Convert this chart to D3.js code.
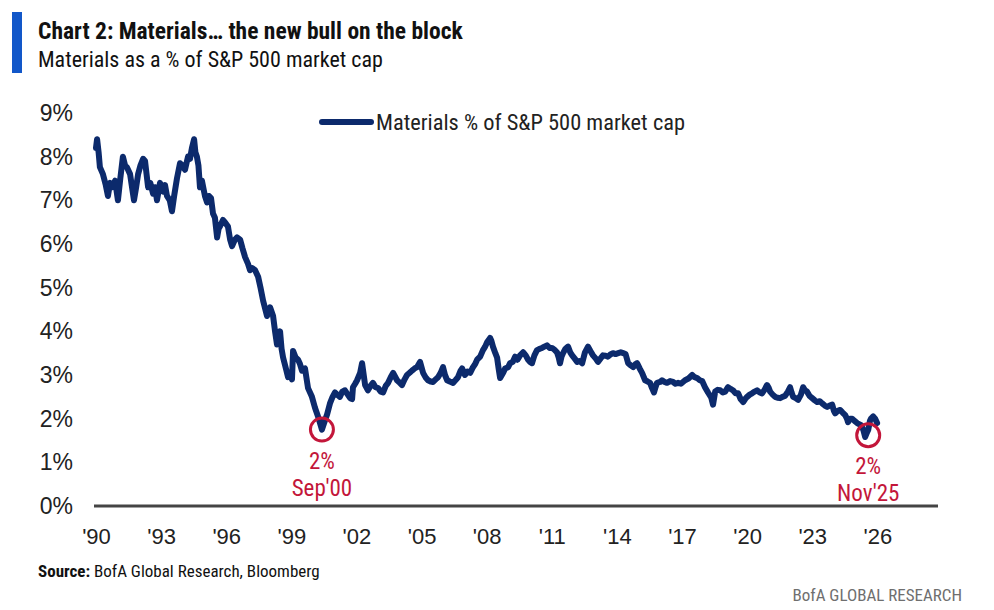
<!DOCTYPE html>
<html>
<head>
<meta charset="utf-8">
<script src="https://cdn.jsdelivr.net/npm/d3@7"></script>
<style>
  body { margin: 0; background: #fff; }
  svg { display: block; font-family: "Roboto Condensed", "Liberation Sans Narrow", "DejaVu Sans Condensed", sans-serif; }
</style>
</head>
<body>
<svg id="chart" width="994" height="610"></svg>
<script>
// decimal years
const dates = [
  1990.00,1990.05,1990.12,1990.18,1990.32,1990.45,1990.55,1990.65,1990.74,1990.88,
  1991.01,1991.12,1991.24,1991.34,1991.43,1991.57,1991.66,1991.75,1991.85,1991.94,
  1992.05,1992.17,1992.26,1992.40,1992.50,1992.63,1992.72,1992.81,1992.95,1993.02,
  1993.09,1993.18,1993.27,1993.40,1993.50,1993.60,1993.73,1993.87,1993.98,1994.10,
  1994.24,1994.33,1994.42,1994.52,1994.58,1994.65,1994.72,1994.79,1994.88,1995.02,
  1995.12,1995.20,1995.30,1995.39,1995.48,1995.58,1995.65,1995.71,1995.85,1995.94,
  1996.08,1996.18,1996.27,1996.40,1996.50,1996.64,1996.75,1996.87,1997.00,1997.10,
  1997.20,1997.33,1997.47,1997.58,1997.70,1997.88,1997.95,1998.02,1998.16,1998.25,
  1998.34,1998.48,1998.55,1998.62,1998.75,1998.85,1998.95,1999.03,1999.08,1999.20,
  1999.31,1999.40,1999.49,1999.63,1999.77,1999.95,2000.09,2000.23,2000.35,2000.41,
  2000.51,2000.65,2000.78,2000.90,2001.01,2001.12,2001.24,2001.35,2001.47,2001.60,
  2001.71,2001.80,2001.84,2001.94,2002.03,2002.17,2002.26,2002.40,2002.53,2002.65,
  2002.76,2002.88,2003.00,2003.12,2003.23,2003.35,2003.46,2003.58,2003.69,2003.87,
  2004.00,2004.10,2004.22,2004.33,2004.45,2004.56,2004.68,2004.79,2004.93,2005.07,
  2005.18,2005.30,2005.42,2005.53,2005.65,2005.76,2005.88,2005.99,2006.08,2006.18,
  2006.30,2006.45,2006.56,2006.68,2006.80,2006.87,2007.00,2007.12,2007.24,2007.37,
  2007.47,2007.56,2007.70,2007.83,2007.93,2008.02,2008.16,2008.22,2008.29,2008.40,
  2008.48,2008.55,2008.62,2008.70,2008.76,2008.85,2008.99,2009.08,2009.20,2009.31,
  2009.42,2009.54,2009.68,2009.80,2009.91,2010.00,2010.09,2010.20,2010.32,2010.45,
  2010.55,2010.66,2010.78,2010.90,2011.01,2011.12,2011.24,2011.32,2011.38,2011.45,
  2011.52,2011.63,2011.75,2011.85,2011.94,2012.05,2012.17,2012.28,2012.40,2012.53,
  2012.67,2012.78,2012.90,2013.02,2013.13,2013.25,2013.36,2013.48,2013.59,2013.70,
  2013.82,2013.94,2014.06,2014.18,2014.29,2014.40,2014.52,2014.64,2014.75,2014.86,
  2014.93,2015.05,2015.16,2015.30,2015.42,2015.53,2015.62,2015.71,2015.78,2015.85,
  2015.99,2016.08,2016.20,2016.31,2016.45,2016.59,2016.70,2016.82,2016.95,2017.14,
  2017.30,2017.47,2017.58,2017.70,2017.82,2017.93,2018.06,2018.20,2018.35,2018.43,
  2018.53,2018.65,2018.76,2018.88,2018.99,2019.12,2019.24,2019.35,2019.47,2019.59,
  2019.70,2019.82,2019.91,2020.00,2020.12,2020.23,2020.35,2020.46,2020.58,2020.69,
  2020.80,2020.92,2021.00,2021.06,2021.18,2021.29,2021.40,2021.52,2021.63,2021.75,
  2021.88,2021.98,2022.05,2022.12,2022.24,2022.35,2022.48,2022.58,2022.67,2022.76,
  2022.88,2023.00,2023.12,2023.23,2023.35,2023.46,2023.58,2023.69,2023.80,2023.92,
  2024.00,2024.06,2024.18,2024.29,2024.40,2024.52,2024.60,2024.65,2024.75,2024.84,
  2024.95,2025.07,2025.18,2025.25,2025.35,2025.44,2025.52,2025.58,2025.66,2025.71,
  2025.81,2025.90,2025.99
];

// Materials % of S&P 500 market cap
const share = [
  8.20,8.40,8.10,7.76,7.60,7.35,7.10,7.40,7.30,7.45,
  7.00,7.50,8.00,7.80,7.75,7.60,7.30,7.00,7.30,7.60,
  7.80,7.95,7.90,7.30,7.40,7.15,7.30,7.00,7.40,7.25,
  7.20,7.35,7.10,7.00,6.75,7.10,7.50,7.85,7.80,7.70,
  8.00,7.95,8.20,8.40,8.10,8.00,7.80,7.30,7.45,7.10,
  6.95,7.10,7.05,6.70,6.60,6.15,6.35,6.40,6.55,6.50,
  6.40,6.10,5.95,6.10,6.15,6.10,5.90,5.70,5.55,5.40,
  5.45,5.40,5.25,5.00,4.70,4.35,4.45,4.55,4.35,4.00,
  3.70,4.00,3.60,3.40,3.15,2.95,3.05,2.90,3.55,3.40,
  3.35,3.25,3.10,3.15,2.70,2.50,2.25,2.05,1.85,1.75,
  1.90,2.10,2.35,2.50,2.60,2.55,2.50,2.62,2.65,2.55,
  2.47,2.45,2.72,2.80,2.88,3.05,3.27,2.77,2.65,2.75,
  2.82,2.72,2.70,2.62,2.60,2.75,2.82,2.95,3.05,2.88,
  2.82,2.77,2.90,3.00,3.05,3.10,3.15,3.18,3.30,3.05,
  2.95,2.88,2.85,2.84,2.90,2.95,3.05,3.18,3.00,2.88,
  2.85,2.82,2.88,2.95,3.10,3.15,3.00,3.08,3.05,3.18,
  3.25,3.35,3.42,3.57,3.65,3.75,3.85,3.78,3.65,3.50,
  3.40,3.15,2.93,3.00,3.05,3.15,3.18,3.27,3.30,3.42,
  3.35,3.45,3.52,3.45,3.35,3.30,3.27,3.45,3.57,3.60,
  3.62,3.65,3.68,3.62,3.62,3.58,3.52,3.40,3.27,3.42,
  3.50,3.60,3.65,3.52,3.45,3.38,3.30,3.32,3.27,3.52,
  3.65,3.55,3.45,3.38,3.30,3.38,3.45,3.44,3.42,3.47,
  3.50,3.48,3.50,3.52,3.50,3.48,3.27,3.22,3.18,3.25,
  3.27,3.15,3.05,2.88,2.85,2.82,2.70,2.60,2.72,2.82,
  2.84,2.88,2.84,2.82,2.86,2.84,2.80,2.82,2.80,2.88,
  2.92,3.00,2.95,2.93,2.88,2.86,2.72,2.60,2.48,2.32,
  2.62,2.66,2.65,2.60,2.62,2.72,2.68,2.65,2.58,2.58,
  2.45,2.38,2.45,2.50,2.55,2.58,2.62,2.65,2.60,2.58,
  2.66,2.77,2.70,2.62,2.55,2.50,2.48,2.47,2.50,2.52,
  2.62,2.72,2.60,2.50,2.47,2.43,2.55,2.72,2.65,2.62,
  2.52,2.47,2.42,2.38,2.40,2.35,2.30,2.27,2.30,2.32,
  2.18,2.12,2.18,2.20,2.14,2.08,2.00,1.92,2.00,2.00,
  1.95,1.90,1.87,1.85,1.75,1.58,1.68,1.74,1.95,2.00,
  2.05,2.00,1.90
];

const yTicks = [0, 1, 2, 3, 4, 5, 6, 7, 8, 9];
const xTicks = [1990, 1993, 1996, 1999, 2002, 2005, 2008, 2011, 2014, 2017, 2020, 2023, 2026];

// annotated lows: [decimal year, value, label top, label bottom]
const callouts = [
  [2000.41, 1.75, "2%", "Sep'00"],
  [2025.58, 1.62, "2%", "Nov'25"]
];

const NAVY = "#0c2a6c";
const RED = "#c3163a";

class Chart {
    constructor(svg) {
        this.svg = svg;
        this.x = d3.scaleLinear().domain([1990, 2028.75]).range([96, 937]);
        this.y = d3.scaleLinear().domain([0, 9]).range([506, 113]);
        this.data = dates.map((d, i) => ({ t: d, v: share[i] }));
    }

    draw() {
        this._header();
        this._axes();
        this._line();
        this._legend();
        this._callouts();
        this._footer();
    }

    _header() {
        this.svg.append("rect")
            .attr("x", 12).attr("y", 12).attr("width", 10).attr("height", 61)
            .attr("fill", "#1257c9");
        this.svg.append("text")
            .attr("x", 38).attr("y", 39)
            .attr("font-size", 23.5).attr("font-weight", "bold").attr("fill", "#111")
            .text("Chart 2: Materials\u2026 the new bull on the block");
        this.svg.append("text")
            .attr("x", 38).attr("y", 67)
            .attr("font-size", 22).attr("fill", "#111")
            .text("Materials as a % of S&P 500 market cap");
    }

    _axes() {
        let yAxis = d3.axisLeft(this.y)
            .tickValues(yTicks)
            .tickSize(0)
            .tickPadding(0)
            .tickFormat(d => d + "%");
        let gy = this.svg.append("g")
            .attr("transform", "translate(73,0)")
            .call(yAxis);
        gy.select(".domain").remove();
        gy.selectAll("text")
            .attr("font-size", 23).attr("fill", "#222")
            .attr("font-family", null);

        let xAxis = d3.axisBottom(this.x)
            .tickValues(xTicks)
            .tickSize(0)
            .tickPadding(22)
            .tickFormat(d => "'" + String(d).slice(2));
        let gx = this.svg.append("g")
            .attr("transform", "translate(0," + this.y(0) + ")")
            .call(xAxis);
        gx.select(".domain").remove();
        gx.selectAll("text")
            .attr("font-size", 22).attr("fill", "#222")
            .attr("font-family", null);

        this.svg.append("line")
            .attr("x1", 94).attr("x2", 938)
            .attr("y1", this.y(0)).attr("y2", this.y(0))
            .attr("stroke", "#444").attr("stroke-width", 3);
    }

    _line() {
        let line = d3.line()
            .x(d => this.x(d.t))
            .y(d => this.y(d.v));
        this.svg.append("path")
            .datum(this.data)
            .attr("d", line)
            .attr("fill", "none")
            .attr("stroke", NAVY)
            .attr("stroke-width", 6)
            .attr("stroke-linejoin", "round")
            .attr("stroke-linecap", "round");
    }

    _legend() {
        this.svg.append("line")
            .attr("x1", 322).attr("x2", 371).attr("y1", 122).attr("y2", 122)
            .attr("stroke", NAVY).attr("stroke-width", 6).attr("stroke-linecap", "round");
        this.svg.append("text")
            .attr("x", 376).attr("y", 130)
            .attr("font-size", 22.4).attr("fill", "#222")
            .text("Materials % of S&P 500 market cap");
    }

    _callouts() {
        let g = this.svg.append("g").attr("class", "callouts");
        let items = g.selectAll(".callout").data(callouts).enter()
            .append("g").attr("class", "callout")
            .attr("transform", d => "translate(" + this.x(d[0]) + "," + this.y(d[1]) + ")");
        items.append("circle")
            .attr("r", 11.5)
            .attr("fill", "none")
            .attr("stroke", RED).attr("stroke-width", 3);
        items.append("text")
            .attr("y", 39).attr("text-anchor", "middle")
            .attr("font-size", 23).attr("fill", RED)
            .text(d => d[2]);
        items.append("text")
            .attr("y", 66).attr("text-anchor", "middle")
            .attr("font-size", 23).attr("fill", RED)
            .text(d => d[3]);
    }

    _footer() {
        let src = this.svg.append("text")
            .attr("x", 38).attr("y", 577)
            .attr("font-size", 17).attr("fill", "#111");
        src.append("tspan").attr("font-weight", "bold").text("Source:");
        src.append("tspan").text(" BofA Global Research, Bloomberg");
        this.svg.append("text")
            .attr("x", 962).attr("y", 601).attr("text-anchor", "end")
            .attr("font-size", 17).attr("fill", "#6f6f6f")
            .text("BofA GLOBAL RESEARCH");
    }
}

new Chart(d3.select("#chart")).draw();
</script>
</body>
</html>
